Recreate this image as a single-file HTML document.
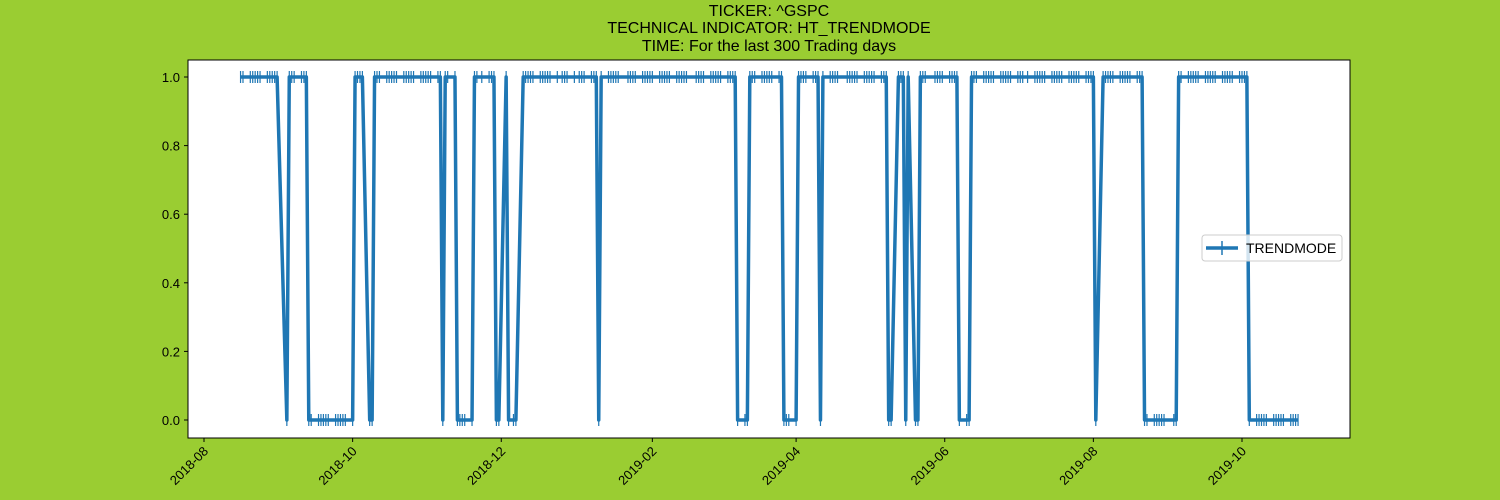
<!DOCTYPE html>
<html><head><meta charset="utf-8"><style>
body{margin:0;background:#9acd32;}
svg{display:block;font-family:"Liberation Sans","DejaVu Sans",sans-serif;}
</style></head><body>
<svg id="chart" width="1500" height="500">
<rect width="1500" height="500" fill="#9acd32"/>
<g font-size="16" text-anchor="middle" fill="#000">
<text x="769" y="16">TICKER:  ^GSPC</text>
<text x="769" y="33">TECHNICAL INDICATOR:  HT_TRENDMODE</text>
<text x="769" y="51">TIME: For the last 300 Trading days</text>
</g>
<rect x="188" y="60" width="1162" height="378" fill="#fff"/>
<g id="axes"></g>
<g id="series"></g>
<rect x="188" y="60" width="1162" height="378" fill="none" stroke="#000" stroke-width="1"/>
<g>
<rect x="1202" y="235" width="140" height="26" rx="3" fill="#fff" fill-opacity="0.8" stroke="#ccc"/>
<line x1="1206" y1="248" x2="1238" y2="248" stroke="#1f77b4" stroke-width="3.5"/>
<line x1="1222" y1="241" x2="1222" y2="255" stroke="#1f77b4" stroke-width="1.5"/>
<text x="1246" y="253" font-size="14">TRENDMODE</text>
</g>
</svg>
<script>
const segStarts = ["2018-08-16","2018-09-04","2018-09-05","2018-09-13","2018-10-02","2018-10-08","2018-10-10","2018-11-07","2018-11-08","2018-11-13","2018-11-20","2018-11-29","2018-12-03","2018-12-04","2018-12-10","2019-01-10","2019-01-11","2019-03-08","2019-03-13","2019-03-27","2019-04-02","2019-04-11","2019-04-12","2019-05-09","2019-05-13","2019-05-16","2019-05-17","2019-05-20","2019-05-22","2019-06-07","2019-06-12","2019-08-02","2019-08-05","2019-08-22","2019-09-05","2019-10-04"];
const segValues = [1,0,1,0,1,0,1,0,1,0,1,0,1,0,1,0,1,0,1,0,1,0,1,0,1,0,1,0,1,0,1,0,1,0,1,0];
const holidays = ["2018-09-03","2018-11-22","2018-12-05","2018-12-25","2019-01-01","2019-01-21","2019-02-18","2019-04-19","2019-05-27","2019-07-04","2019-09-02"];
const endDate = "2019-10-24";
const xTickLabels = ["2018-08","2018-10","2018-12","2019-02","2019-04","2019-06","2019-08","2019-10"];
const yTickValues = [0,0.2,0.4,0.6,0.8,1.0];

const NS="http://www.w3.org/2000/svg";
const DAY=86400000;
const t0=Date.UTC(2018,7,1), t1=Date.UTC(2019,9,1);
function xScale(ms){return 204+(ms-t0)/(t1-t0)*(1242-204);}
function yScale(v){return 420-v*(420-77);}
function parse(s){const p=s.split("-").map(Number);return Date.UTC(p[0],p[1]-1,p[2]||1);}
function mk(tag,attrs,parent){const e=document.createElementNS(NS,tag);for(const k in attrs)e.setAttribute(k,attrs[k]);parent.appendChild(e);return e;}

const axes=document.getElementById("axes");
xTickLabels.forEach(l=>{
  const x=xScale(parse(l));
  const tk=mk("line",{x1:x,x2:x,y1:438,y2:442,stroke:"#000"},axes);
  
  
  const t=mk("text",{x:x+5,y:452,"font-size":13,"text-anchor":"end",transform:`rotate(-45 ${x+5} 452)`},axes);
  
  
  t.textContent=l;
});
yTickValues.forEach(v=>{
  const y=yScale(v);
  const tk=mk("line",{x1:184,x2:188,y1:y,y2:y,stroke:"#000"},axes);
  
  
  const t=mk("text",{x:180,y:y+5,"font-size":13,"text-anchor":"end"},axes);
  
  
  t.textContent=v.toFixed(1);
});

const pts=[];
const startMs=parse(segStarts[0]), endMs=parse(endDate);
const segMs=segStarts.map(parse);
const hol=new Set(holidays.map(parse));
for(let d=startMs; d<=endMs; d+=DAY){
  const wd=new Date(d).getUTCDay();
  if(wd===0||wd===6||hol.has(d))continue;
  let v=segValues[0];
  for(let i=0;i<segMs.length;i++){if(segMs[i]<=d)v=segValues[i];}
  pts.push([xScale(d),yScale(v)]);
}
const series=document.getElementById("series");
const line=mk("polyline",{points:pts.map(p=>p.join(",")).join(" "),fill:"none",stroke:"#1f77b4","stroke-width":3.5,"stroke-linejoin":"round"},series);


pts.forEach(p=>{
  const m=mk("line",{x1:p[0],x2:p[0],y1:p[1]-6,y2:p[1]+6,stroke:"#1f77b4","stroke-width":1.2},series);
  
  
});
</script>
</body></html>
